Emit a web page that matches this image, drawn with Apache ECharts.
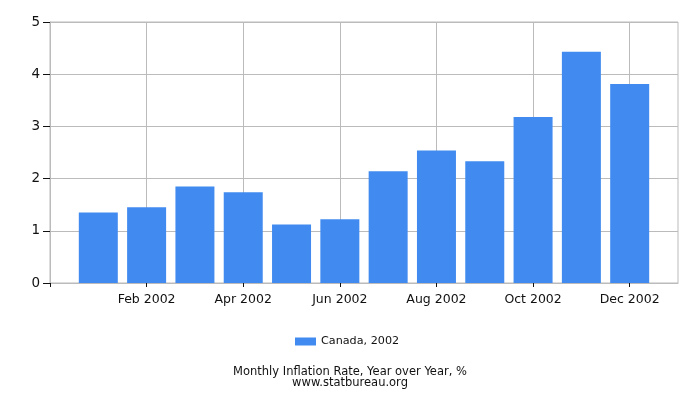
<!DOCTYPE html>
<html>
<head>
<meta charset="utf-8">
<script src="https://cdn.jsdelivr.net/npm/echarts@6/dist/echarts.min.js"></script>
<style>html,body{margin:0;padding:0;background:#fff}#c{width:700px;height:400px}</style>
</head>
<body>
<div id="c"></div>
<script>
var months = [1,2,3,4,5,6,7,8,9,10,11,12];
var values = [1.35,1.45,1.85,1.74,1.12,1.22,2.14,2.54,2.33,3.18,4.43,3.81];
var tickValues = [0,2,4,6,8,10,12];
var tickLabels = {2:'Feb 2002',4:'Apr 2002',6:'Jun 2002',8:'Aug 2002',10:'Oct 2002',12:'Dec 2002'};
var seriesName = 'Canada, 2002';
var titleLines = ['Monthly Inflation Rate, Year over Year, %','www.statbureau.org'];

var font = 'DejaVu Sans';
var chart = echarts.init(document.getElementById('c'));
chart.setOption({
  animation:false,
  textStyle:{fontFamily:font},
  grid:{left:50,right:22,top:22,bottom:117,show:true,borderColor:'#bbb',borderWidth:1},
  title:{text:titleLines.join('\n'),left:'center',top:362,
    textStyle:{fontFamily:font,fontSize:11.5,fontWeight:'normal',color:'#111',lineHeight:10.5}},
  legend:{data:[seriesName],top:331,left:290,itemWidth:21,itemHeight:8,itemGap:5,icon:'rect',
    textStyle:{fontFamily:font,fontSize:11.2,color:'#111'}},
  xAxis:{type:'value',min:0,max:13,interval:2,
    axisLine:{show:true,lineStyle:{color:'#bbb'}},
    axisTick:{show:true,length:4,customValues:tickValues,lineStyle:{color:'#111'}},
    splitLine:{show:true,lineStyle:{color:'#bbb'}},
    axisLabel:{fontFamily:font,fontSize:12.5,color:'#111',margin:10,customValues:tickValues,
      formatter:function(v){return tickLabels[v]||'';}}},
  yAxis:{type:'value',min:0,max:5,interval:1,
    axisLine:{show:true,lineStyle:{color:'#bbb'}},
    axisTick:{show:true,length:7,lineStyle:{color:'#111'}},
    splitLine:{show:true,lineStyle:{color:'#bbb'}},
    axisLabel:{fontFamily:font,fontSize:13.5,color:'#111',margin:10}},
  series:[{name:seriesName,type:'bar',barWidth:39,
    itemStyle:{color:'#418bf0'},
    data:months.map(function(m,i){return [m,values[i]];})}]
});
</script>
</body>
</html>
